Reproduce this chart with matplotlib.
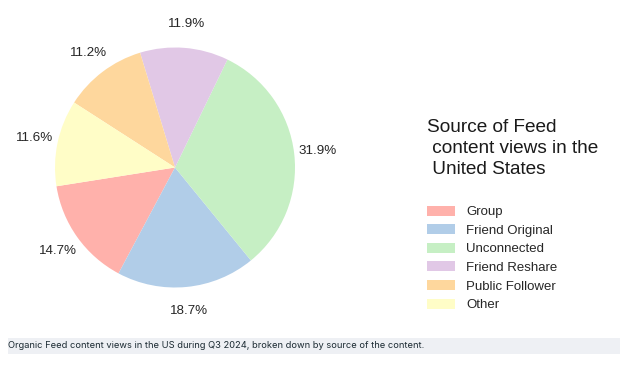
import matplotlib
matplotlib.use("Agg")
import matplotlib.pyplot as plt
from matplotlib.patches import Rectangle

categories = ["Group", "Friend Original", "Unconnected", "Friend Reshare", "Public Follower", "Other"]
shares = [14.7, 18.7, 31.9, 11.9, 11.2, 11.6]
colors = ["#ffb1ab", "#b1cde8", "#c6efc4", "#e1c8e6", "#fed79d", "#fffdc7"]
legend_title = "Source of Feed\n content views in the\n United States\n"
caption = "Organic Feed content views in the US during Q3 2024, broken down by source of the content."

plt.rcParams['font.family'] = ['Liberation Sans', 'DejaVu Sans']

W, H = 620, 368
fig = plt.figure(figsize=(W / 100, H / 100), dpi=100)

cx, cy, r = 175, 167.5, 120
side = r * 2.5
ax = fig.add_axes([(cx - side / 2) / W, (H - cy - side / 2) / H, side / W, side / H])
wedges, texts, autotexts = ax.pie(shares, colors=colors, startangle=189, counterclock=True,
                                  autopct='%.1f%%', pctdistance=1.2,
                                  textprops=dict(fontsize=9.6, color="#262626"))
ax.set_aspect('equal')

leg = fig.legend(wedges, categories, title=legend_title, loc='upper left',
                 bbox_to_anchor=(415 / W, 1 - 107 / H), frameon=False,
                 fontsize=9.5, title_fontsize=13.7, alignment='left',
                 labelspacing=0.45, handlelength=2.1, handleheight=0.8, handletextpad=0.9)
for t in leg.get_texts():
    t.set_color("#262626")
leg.get_title().set_color("#1a1a1a")
leg.get_title().set_linespacing(1.33)

# caption band
fig.patches.append(Rectangle((8 / W, (H - 354) / H), (W - 8) / W, 16 / H,
                             transform=fig.transFigure, facecolor="#eef0f4",
                             edgecolor="none", zorder=0))
fig.text(8 / W, 1 - 346 / H, caption, fontsize=6.7, color="#1c2b33",
         family=['Inter', 'DejaVu Sans'], va='center', ha='left')

fig.savefig("out.png", dpi=100, facecolor="white")
